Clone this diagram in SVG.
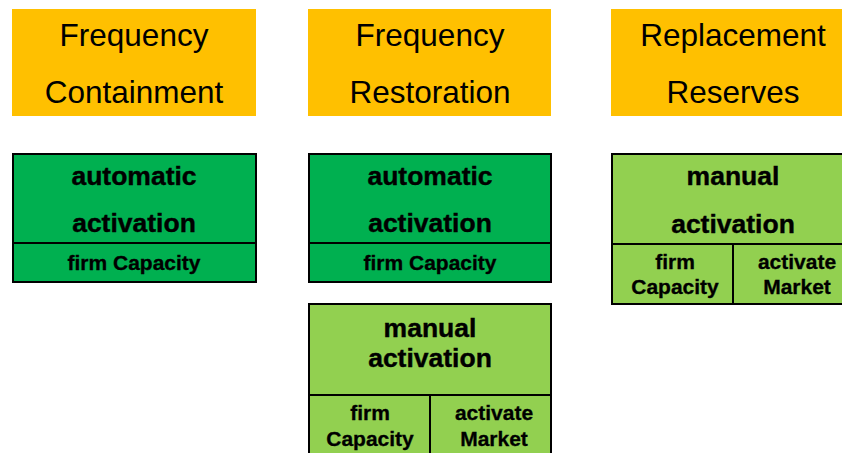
<svg xmlns="http://www.w3.org/2000/svg" width="842" height="453" viewBox="0 0 842 453">
<style>
.hdr{fill:#FFC000}
.hdrt{font-family:"Liberation Sans",Arial,sans-serif;font-size:31.5px;fill:#000;text-anchor:middle}
.dg{fill:#00B050;stroke:#000;stroke-width:2}
.lg{fill:#92D050;stroke:#000;stroke-width:2}
.ln{stroke:#000;stroke-width:2;fill:none}
.big{font-family:"Liberation Sans",Arial,sans-serif;font-weight:bold;font-size:26.5px;fill:#000;stroke:#000;stroke-width:0.4;text-anchor:middle}
.sm{font-family:"Liberation Sans",Arial,sans-serif;font-weight:bold;font-size:21px;fill:#000;stroke:#000;stroke-width:0.3;text-anchor:middle}
</style>
<rect width="842" height="453" fill="#fff"/>
<g id="hdr-fc">
<rect class="hdr" x="12" y="9" width="244" height="107"/>
<text class="hdrt" x="134" y="46">Frequency</text>
<text class="hdrt" x="134" y="103">Containment</text>
</g>
<g id="hdr-fr">
<rect class="hdr" x="308" y="9" width="243" height="107"/>
<text class="hdrt" x="430" y="46">Frequency</text>
<text class="hdrt" x="430" y="103">Restoration</text>
</g>
<g id="hdr-rr">
<rect class="hdr" x="611" y="9" width="244" height="107"/>
<text class="hdrt" x="733" y="46">Replacement</text>
<text class="hdrt" x="733" y="103">Reserves</text>
</g>
<g id="fc-auto">
<rect class="dg" x="13" y="154" width="243" height="128"/>
<line class="ln" x1="13" y1="243" x2="256" y2="243"/>
<text class="big" x="134" y="185">automatic</text>
<text class="big" x="134" y="232">activation</text>
<text class="sm" x="134" y="270">firm Capacity</text>
</g>
<g id="fr-auto">
<rect class="dg" x="309" y="154" width="242" height="128"/>
<line class="ln" x1="309" y1="243" x2="551" y2="243"/>
<text class="big" x="430" y="185">automatic</text>
<text class="big" x="430" y="232">activation</text>
<text class="sm" x="430" y="270">firm Capacity</text>
</g>
<g id="fr-manual">
<rect class="lg" x="309" y="304" width="242" height="160"/>
<line class="ln" x1="309" y1="395" x2="551" y2="395"/>
<line class="ln" x1="430" y1="395" x2="430" y2="464"/>
<text class="big" x="430" y="337">manual</text>
<text class="big" x="430" y="367">activation</text>
<text class="sm" x="370" y="420">firm</text>
<text class="sm" x="370" y="446">Capacity</text>
<text class="sm" x="494" y="420">activate</text>
<text class="sm" x="494" y="446">Market</text>
</g>
<g id="rr-manual">
<rect class="lg" x="612" y="154" width="244" height="150"/>
<line class="ln" x1="612" y1="244" x2="856" y2="244"/>
<line class="ln" x1="733" y1="244" x2="733" y2="304"/>
<text class="big" x="733" y="185">manual</text>
<text class="big" x="733" y="233">activation</text>
<text class="sm" x="675" y="269">firm</text>
<text class="sm" x="675" y="294">Capacity</text>
<text class="sm" x="797" y="269">activate</text>
<text class="sm" x="797" y="294">Market</text>
</g>
<g id="connectors"></g>
</svg>
